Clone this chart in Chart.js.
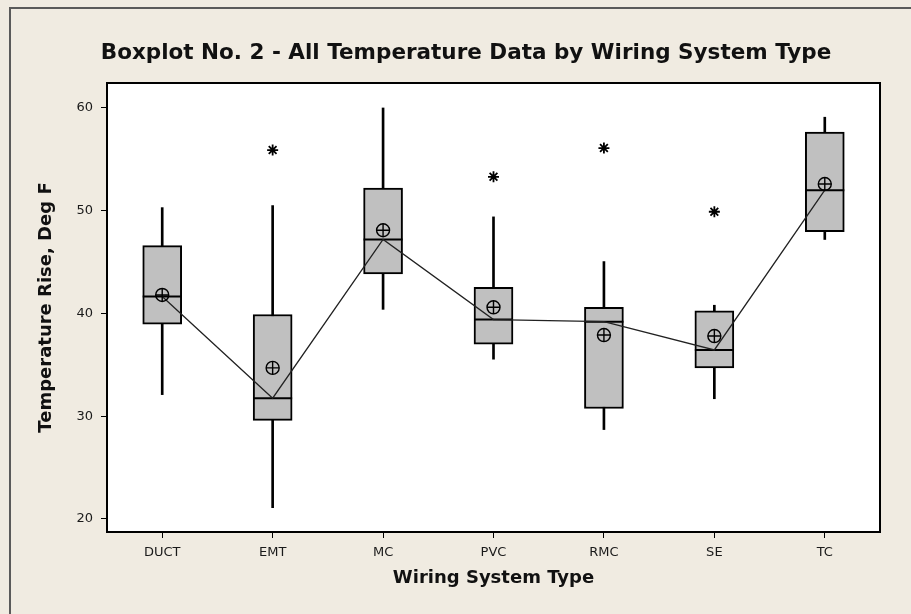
<!DOCTYPE html>
<html>
<head>
<meta charset="utf-8">
<script src="https://cdn.jsdelivr.net/npm/chart.js@4"></script>
<style>
  body { margin: 0; background: #f0ebe1; }
  canvas { display: block; }
</style>
</head>
<body>
<canvas id="boxChart" width="911" height="614"></canvas>
<script>
/* eslint-disable*/

const categories = ['DUCT', 'EMT', 'MC', 'PVC', 'RMC', 'SE', 'TC'];
const whiskerLow = [32.1, 21.1, 40.4, 35.55, 28.7, 31.7, 47.2];
const q1 = [38.96, 29.6, 43.85, 37.0, 30.75, 34.7, 47.95];
const medians = [41.65, 31.75, 47.2, 39.4, 39.2, 36.45, 52.0];
const q3 = [46.6, 39.9, 52.2, 42.55, 40.6, 40.25, 57.65];
const whiskerHigh = [50.3, 50.5, 60.0, 49.4, 45.05, 40.8, 59.1];
const means = [41.8, 34.7, 48.1, 40.6, 37.9, 37.8, 52.6];
const outliers = [null, 55.9, null, 53.3, 56.1, 49.9, null];
const yTicks = [20, 30, 40, 50, 60];

const chartTitle = 'Boxplot No. 2 - All Temperature Data by Wiring System Type';

const whiskers = whiskerLow.map((lo, i) => [lo, whiskerHigh[i]]);
const boxes = q1.map((lo, i) => [lo, q3[i]]);

const frame = {
  id: 'frame',
  beforeDraw(chart) {
    const { ctx, chartArea: a } = chart;
    ctx.save();
    ctx.fillStyle = '#f0ebe1';
    ctx.fillRect(0, 0, chart.width, chart.height);
    ctx.strokeStyle = '#5a5a5a';
    ctx.lineWidth = 2;
    ctx.beginPath();
    ctx.moveTo(10, chart.height);
    ctx.lineTo(10, 8);
    ctx.lineTo(chart.width, 8);
    ctx.stroke();
    ctx.fillStyle = '#ffffff';
    ctx.fillRect(a.left, a.top, a.right - a.left, a.bottom - a.top);
    ctx.fillStyle = '#111';
    ctx.font = 'bold 21.5px "DejaVu Sans"';
    ctx.textAlign = 'center';
    ctx.textBaseline = 'middle';
    ctx.fillText(chartTitle, 466, 53);
    ctx.restore();
  },
  afterDraw(chart) {
    const { ctx, chartArea: a } = chart;
    ctx.save();
    ctx.strokeStyle = '#000';
    ctx.lineWidth = 2;
    ctx.strokeRect(a.left, a.top, a.right - a.left, a.bottom - a.top);
    ctx.restore();
  },
};

const ctx = document.getElementById('boxChart');

new Chart(ctx, {
  type: 'bar',
  data: {
    labels: categories,
    datasets: [
      {
        label: 'Whiskers',
        data: whiskers,
        backgroundColor: '#000',
        borderWidth: 0,
        barThickness: 2,
        grouped: false,
        order: 6,
      },
      {
        label: 'IQR',
        data: boxes,
        backgroundColor: '#c0c0c0',
        borderColor: '#000',
        borderWidth: 2,
        borderSkipped: false,
        barThickness: 39,
        grouped: false,
        order: 5,
      },
      {
        type: 'line',
        label: 'Median',
        data: medians,
        showLine: false,
        pointStyle: 'line',
        pointRadius: 19.5,
        pointBorderWidth: 2,
        borderColor: '#000',
        order: 4,
      },
      {
        type: 'line',
        label: 'Median connect',
        data: medians,
        borderColor: '#222',
        borderWidth: 1.3,
        pointRadius: 0,
        tension: 0,
        order: 3,
      },
      {
        type: 'line',
        label: 'Mean',
        data: means,
        showLine: false,
        pointStyle: 'circle',
        pointRadius: 6.5,
        pointBorderWidth: 1.4,
        borderColor: '#000',
        backgroundColor: 'rgba(0,0,0,0)',
        order: 2,
      },
      {
        type: 'line',
        label: 'Mean cross',
        data: means,
        showLine: false,
        pointStyle: 'cross',
        pointRadius: 6.5,
        pointBorderWidth: 1.4,
        borderColor: '#000',
        order: 1,
      },
      {
        type: 'line',
        label: 'Outliers',
        data: outliers,
        showLine: false,
        pointStyle: 'star',
        pointRadius: 5.5,
        pointBorderWidth: 1.8,
        borderColor: '#000',
        order: 0,
      },
    ],
  },
  options: {
    responsive: false,
    devicePixelRatio: 1,
    animation: false,
    events: [],
    layout: { padding: { left: 0, right: 31, top: 83, bottom: 0 } },
    plugins: {
      legend: { display: false },
      tooltip: { enabled: false },
      title: { display: false },
    },
    scales: {
      x: {
        offset: true,
        grid: { drawOnChartArea: false, drawTicks: true, tickLength: 6, color: '#000', offset: false },
        border: { display: true, color: '#000', width: 2 },
        ticks: { color: '#1a1a1a', font: { family: 'DejaVu Sans', size: 13 }, padding: 7 },
        title: {
          display: true,
          text: 'Wiring System Type',
          color: '#111',
          font: { family: 'DejaVu Sans', size: 18, weight: 'bold' },
          padding: { top: 0, bottom: 25 },
        },
        afterFit(scale) { scale.height = 82; },
      },
      y: {
        min: 18.73,
        max: 62.43,
        grid: { drawOnChartArea: false, drawTicks: true, tickLength: 6, color: '#000' },
        border: { display: true, color: '#000', width: 2 },
        ticks: { color: '#1a1a1a', font: { family: 'DejaVu Sans', size: 13 }, padding: 8 },
        afterBuildTicks(scale) { scale.ticks = yTicks.map((v) => ({ value: v })); },
        title: {
          display: true,
          text: 'Temperature Rise, Deg F',
          color: '#111',
          font: { family: 'DejaVu Sans', size: 18, weight: 'bold' },
          padding: { top: 36, bottom: 0 },
        },
        afterFit(scale) { scale.width = 107; },
      },
    },
  },
  plugins: [frame],
});
</script>
</body>
</html>
